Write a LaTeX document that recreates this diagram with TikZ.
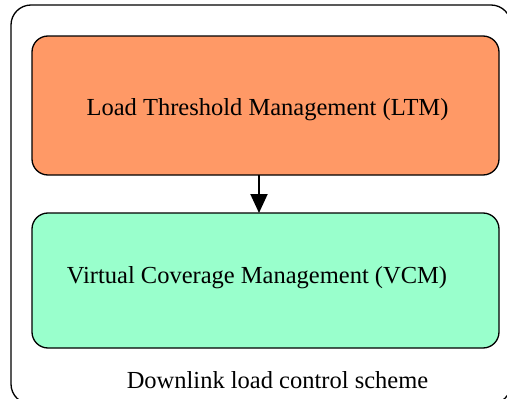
\documentclass[tikz,border=0pt]{standalone}
\usepackage{fontspec}
\setmainfont{Liberation Serif}
\usetikzlibrary{arrows.meta}
\definecolor{ltmfill}{RGB}{255,153,102}
\definecolor{vcmfill}{RGB}{153,255,204}
\begin{document}
\begin{tikzpicture}[x=1pt,y=-1pt,
  frame/.style={draw=black,line width=1.3pt,rounded corners=20pt},
  stage/.style={draw=black,line width=1.3pt,rounded corners=16pt,
    minimum width=467pt,minimum height=139pt,inner sep=0pt,outer sep=0pt},
  lbl/.style={font=\fontsize{24.5}{28}\selectfont,anchor=base,inner sep=0pt},
  arr/.style={line width=2pt,-{Triangle[width=17pt,length=19pt]}}]
\useasboundingbox (0,0) rectangle (507,399);
\begin{scope}
\clip (0,0) rectangle (507,399);
\draw[frame] (11,5) rectangle (511,404);
\end{scope}
\node[stage,fill=ltmfill] (ltm) at (265.5,105.5) {};
\node[stage,fill=vcmfill,minimum height=135pt] (vcm) at (265.5,280.5) {};
\node[lbl] (ltmtext) at (267.5,115) {Load Threshold Management (LTM)};
\node[lbl] (vcmtext) at (257,283) {Virtual Coverage Management (VCM)};
\node[lbl] (caption) at (277.5,388) {Downlink load control scheme};
\draw[arr] ([xshift=-6.5pt]ltm.south) -- ([xshift=-6.5pt]vcm.north);
\end{tikzpicture}
\end{document}
